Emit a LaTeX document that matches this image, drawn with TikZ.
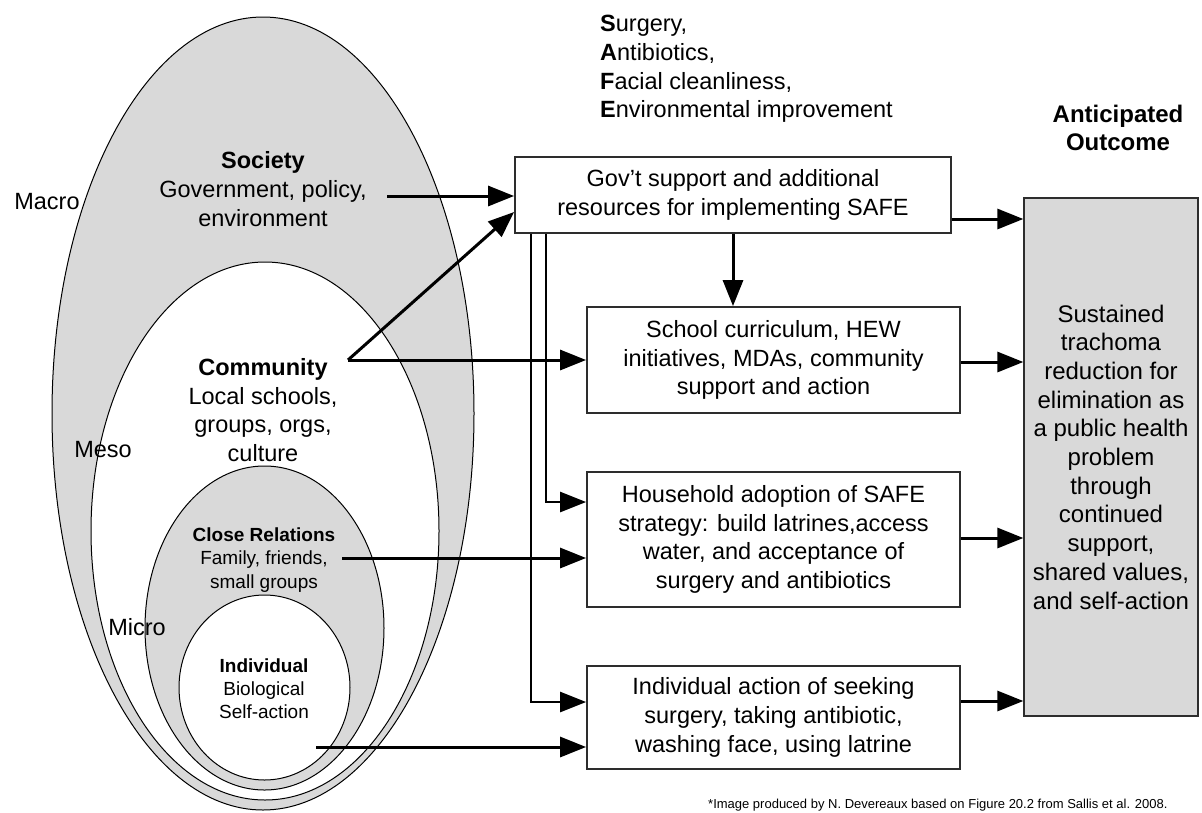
\documentclass[tikz,border=0pt]{standalone}
\usepackage{fontspec}
\setmainfont{Liberation Sans}
\usetikzlibrary{arrows.meta,calc}
\definecolor{shade}{RGB}{217,217,217}
\definecolor{boxline}{RGB}{45,45,45}
\tikzset{
  big/.style={font=\fontsize{23.5}{28.6}\selectfont, align=center, inner sep=0pt},
  small/.style={font=\fontsize{19}{23.3}\selectfont, align=center, inner sep=0pt},
  stagebox/.style={draw=boxline, line width=1.8pt, fill=white, inner sep=0pt, big},
  tip/.style={-{Triangle[length=26pt,width=20pt]}},
  arr/.style={line width=3pt, tip},
  link/.style={line width=2.6pt, tip},
  ring/.style={draw=black, line width=1pt},
}
\begin{document}
\begin{tikzpicture}[x=1pt,y=-1pt]
\useasboundingbox[fill=white] (0,0) rectangle (1202,812);

% nested ellipses
\draw[ring, fill=shade] (263,413.5) ellipse [x radius=211pt, y radius=396.5pt];
\draw[ring, fill=white] (265,531) ellipse [x radius=174pt, y radius=269pt];
\draw[ring, fill=shade] (264.5,628) ellipse [x radius=119.5pt, y radius=162pt];
\draw[ring, fill=white] (264.5,687.5) ellipse [x radius=85.5pt, y radius=92.5pt];

% ellipse labels
\node[big, anchor=center] (macro) at (47,202) {Macro};
\node[big, anchor=center] (meso) at (103,450) {Meso};
\node[big, anchor=center] (micro) at (137,627) {Micro};
\node[big] (society) at (263,189) {\textbf{Society}\\Government, policy,\\environment};
\node[big] (community) at (263,410) {\textbf{Community}\\Local schools,\\groups, orgs,\\culture};
\node[small] (close) at (264,560) {\textbf{Close Relations}\\Family, friends,\\small groups};
\node[small] (individual) at (264,688.5) {\textbf{Individual}\\Biological\\Self-action};

% SAFE list
\node[big, align=left, anchor=west] (safe) at (600,69) {\textbf{S}urgery,\\\textbf{A}ntibiotics,\\\textbf{F}acial cleanliness,\\\textbf{E}nvironmental improvement};

% boxes
\node[stagebox, minimum width=436pt, minimum height=76pt] (gov) at (733,195) {Gov’t support and additional\\resources for implementing SAFE};
\node[stagebox, minimum width=373pt, minimum height=106pt] (school) at (773.5,360) {School curriculum, HEW\\initiatives, MDAs, community\\support and action};
\node[stagebox, minimum width=373pt, minimum height=135pt] (house) at (773.5,539.5) {Household adoption of SAFE\\strategy: build latrines,access\\water, and acceptance of\\surgery and antibiotics};
\node[stagebox, minimum width=373pt, minimum height=103pt] (indiv) at (773.5,717.5) {Individual action of seeking\\surgery, taking antibiotic,\\washing face, using latrine};

\node[font=\bfseries\fontsize{24}{28.6}\selectfont, align=center, inner sep=0pt] (anttitle) at (1118,128) {Anticipated\\Outcome};
\node[draw=boxline, line width=1.3pt, fill=shade, minimum width=174pt, minimum height=518pt, inner sep=0pt,
      font=\fontsize{24}{28.7}\selectfont, align=center] (outcome) at (1111,457)
  {Sustained\\trachoma\\reduction for\\elimination as\\a public health\\problem\\through\\continued\\support,\\shared values,\\and self-action};

% source points
\coordinate (socpt) at (387,196);
\coordinate (compt) at (348,360);
\coordinate (clopt) at (342,558);
\coordinate (indpt) at (316,747);
\coordinate (v1) at ([xshift=-202pt]gov.south);
\coordinate (v2) at ([xshift=-187pt]gov.south);

% connectors from the ellipses
\draw[arr] (socpt) -- (socpt -| gov.west);
\draw[arr] (compt) -- ([yshift=-17pt]gov.west);
\draw[arr] (compt) -- (compt -| school.west);
\draw[arr] (clopt) -- (clopt -| house.west);
\draw[arr] (indpt) -- (indpt -| indiv.west);

% connectors from the government box
\draw[arr] (gov.south) -- (gov.south |- school.north);
\draw[link] (v2) |- ([yshift=37.5pt]house.west);
\draw[link] (v1) |- ([yshift=15.5pt]indiv.west);

% connectors to the outcome
\draw[arr] ([yshift=-24pt]gov.east) -- ([yshift=-24pt]gov.east -| outcome.west);
\draw[arr] ([yshift=-2pt]school.east) -- ([yshift=-2pt]school.east -| outcome.west);
\draw[arr] ([yshift=1.5pt]house.east) -- ([yshift=1.5pt]house.east -| outcome.west);
\draw[arr] ([yshift=16.5pt]indiv.east) -- ([yshift=16.5pt]indiv.east -| outcome.west);

% footnote
\node[font=\fontsize{13}{15}\selectfont, anchor=south west, inner sep=0pt] (note) at (708,811)
  {*Image produced by N. Devereaux based on Figure 20.2 from Sallis et al. 2008.};
\end{tikzpicture}
\end{document}
